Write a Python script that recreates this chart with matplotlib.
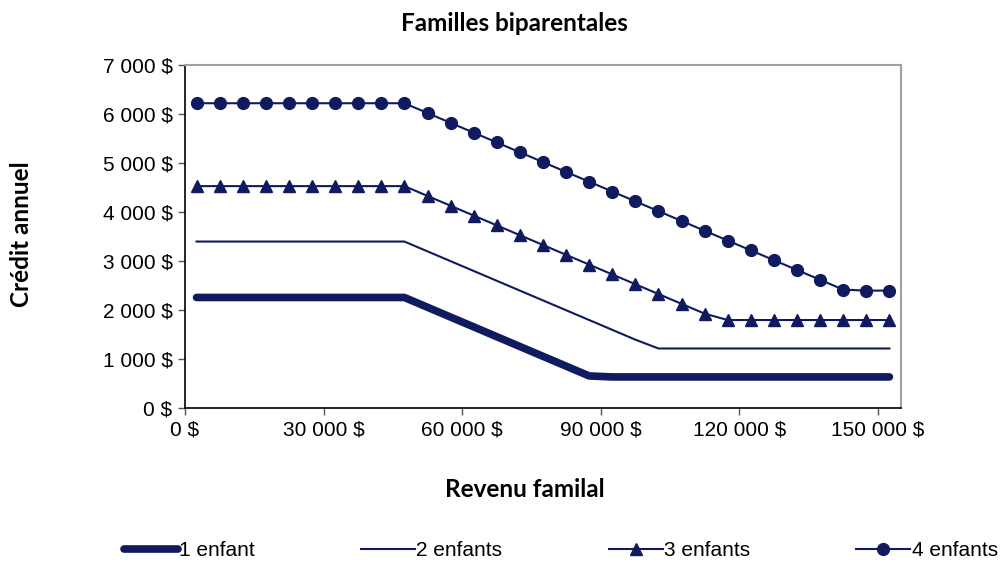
import matplotlib.pyplot as plt
from matplotlib.ticker import FuncFormatter

# Revenu familial (points tous les 5 000 $)
revenu = [2500, 7500, 12500, 17500, 22500, 27500, 32500, 37500, 42500, 47500,
          52500, 57500, 62500, 67500, 72500, 77500, 82500, 87500, 92500, 97500,
          102500, 107500, 112500, 117500, 122500, 127500, 132500, 137500, 142500, 147500,
          152500]

# Crédit annuel par nombre d'enfants
un_enfant = [2260, 2260, 2260, 2260, 2260, 2260, 2260, 2260, 2260, 2260,
             2060, 1860, 1660, 1460, 1260, 1060, 860, 660, 640, 640,
             640, 640, 640, 640, 640, 640, 640, 640, 640, 640,
             640]
deux_enfants = [3400, 3400, 3400, 3400, 3400, 3400, 3400, 3400, 3400, 3400,
                3200, 3000, 2800, 2600, 2400, 2200, 2000, 1800, 1600, 1400,
                1220, 1220, 1220, 1220, 1220, 1220, 1220, 1220, 1220, 1220,
                1220]
trois_enfants = [4530, 4530, 4530, 4530, 4530, 4530, 4530, 4530, 4530, 4530,
                 4330, 4130, 3930, 3730, 3530, 3330, 3130, 2930, 2730, 2530,
                 2330, 2130, 1930, 1800, 1800, 1800, 1800, 1800, 1800, 1800,
                 1800]
quatre_enfants = [6220, 6220, 6220, 6220, 6220, 6220, 6220, 6220, 6220, 6220,
                  6020, 5820, 5620, 5420, 5220, 5020, 4820, 4620, 4420, 4220,
                  4020, 3820, 3620, 3420, 3220, 3020, 2820, 2620, 2420, 2400,
                  2400]

couleur = '#101a5e'
police_ticks = 'Liberation Sans'
police_titres = 'Lato'


def format_dollars(v, pos):
    return f"{v:,.0f} $".replace(",", " ")


fig = plt.figure(figsize=(10.06, 5.65), dpi=100)
ax = fig.add_axes([0.1839, 0.2773, 0.7117, 0.6077])

ax.plot(revenu, un_enfant, color=couleur, linewidth=5.5, solid_capstyle='round',
        label='1 enfant')
ax.plot(revenu, deux_enfants, color=couleur, linewidth=1.5, label='2 enfants')
ax.plot(revenu, trois_enfants, color=couleur, linewidth=1.5, marker='^',
        markersize=8, label='3 enfants')
ax.plot(revenu, quatre_enfants, color=couleur, linewidth=1.5, marker='o',
        markersize=8.5, label='4 enfants')

ax.set_xlim(0, 155000)
ax.set_ylim(0, 7000)
ax.set_xticks(range(0, 150001, 30000))
ax.set_yticks(range(0, 7001, 1000))
ax.xaxis.set_major_formatter(FuncFormatter(format_dollars))
ax.yaxis.set_major_formatter(FuncFormatter(format_dollars))
ax.tick_params(axis='both', direction='out', length=5, width=1, color='#555555',
               labelsize=15, pad=4)
for lab in ax.get_xticklabels() + ax.get_yticklabels():
    lab.set_fontfamily(police_ticks)

for s in ['left', 'bottom']:
    ax.spines[s].set_color('black')
    ax.spines[s].set_linewidth(1.2)
for s in ['top', 'right']:
    ax.spines[s].set_color('#a0a0a0')
    ax.spines[s].set_linewidth(1.5)

fig.text(0.511, 0.958, 'Familles biparentales', ha='center', va='center',
         fontsize=17.5, fontweight='bold', fontfamily=police_titres)
fig.text(0.522, 0.133, 'Revenu familal', ha='center', va='center',
         fontsize=17.5, fontweight='bold', fontfamily=police_titres)
fig.text(0.021, 0.585, 'Crédit annuel', ha='center', va='center', rotation=90,
         fontsize=17.5, fontweight='bold', fontfamily=police_titres)

leg = fig.legend(loc='center left', bbox_to_anchor=(0.115, 0.025, 0.885, 0.0),
                 ncol=4, mode='expand', frameon=False, handlelength=2.6,
                 handletextpad=0.05, borderaxespad=0,
                 prop={'family': police_ticks, 'size': 15})

fig.savefig('out.png', dpi=100)
